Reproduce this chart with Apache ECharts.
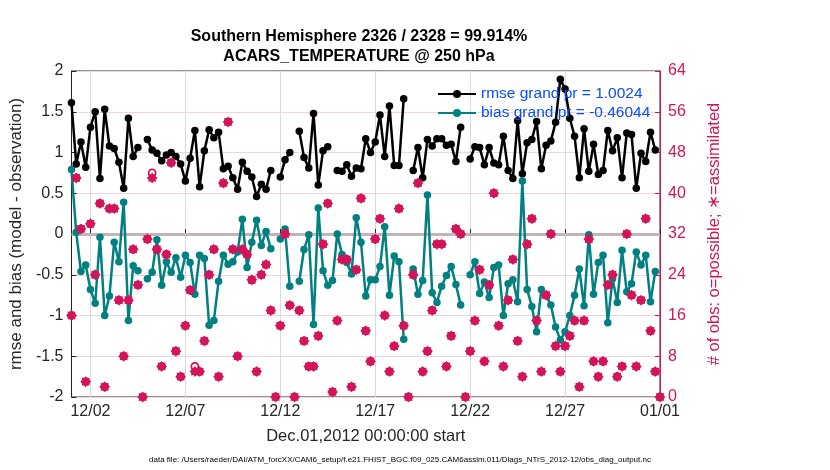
<!DOCTYPE html>
<html>
<head>
<meta charset="utf-8">
<script src="https://cdn.jsdelivr.net/npm/echarts@6/dist/echarts.min.js"></script>
<style>
html,body{margin:0;padding:0;background:#fff;}
#c{width:830px;height:470px;}
</style>
</head>
<body>
<div id="c"></div>
<script>
// ---- data (6-hourly, Dec 1 00:00 .. Jan 1 00:00) ----
const tickLabels = ['12/02','12/07','12/12','12/17','12/22','12/27','01/01'];
const titleLines = ['Southern Hemisphere 2326 / 2328 = 99.914%', 'ACARS_TEMPERATURE @ 250 hPa'];
const legendNames = ['rmse grand pr = 1.0024', 'bias grand pr = -0.46044'];

const rmse = [
1.61,0.86,1.13,0.82,1.31,1.50,0.68,1.53,1.08,1.05,
0.88,0.56,1.42,0.95,1.06,null,1.16,1.03,0.99,0.90,
0.97,1.00,0.95,0.86,0.65,0.93,1.27,0.58,1.02,1.28,
1.18,1.25,0.80,0.83,0.69,0.55,0.88,0.77,0.70,0.46,
0.61,0.55,0.78,null,0.70,0.91,1.00,null,1.26,0.94,
0.81,1.48,0.60,1.02,1.07,null,0.78,0.77,0.85,0.71,
0.81,0.80,1.17,1.00,1.13,1.46,0.95,1.57,0.84,0.84,
1.66,null,0.78,1.06,0.69,1.16,1.08,1.17,1.17,1.09,
1.10,0.89,1.31,null,0.92,1.07,1.06,0.85,1.06,0.87,
0.85,1.20,0.78,0.68,1.39,0.74,1.12,1.16,1.38,0.80,
1.09,1.14,1.37,1.90,1.78,1.42,1.20,0.69,1.29,0.77,
1.10,0.73,0.78,1.27,1.02,1.18,0.69,1.24,1.22,0.56,
0.99,0.89,1.25,1.03,null
];

const bias = [
0.79,0.02,-0.46,-0.38,-0.68,-0.85,-0.04,-1.00,-0.76,-0.10,
-0.34,0.39,-1.06,-0.39,-0.45,null,-0.55,-0.47,-0.07,-0.63,
-0.34,-0.47,-0.29,-0.53,-0.26,-0.35,-0.74,-0.26,-0.30,-1.12,
-1.06,-0.58,-0.26,-0.37,-0.34,-0.22,0.18,-0.41,-0.10,0.17,
-0.14,0.03,-0.18,null,-0.06,0.06,-0.64,null,-0.58,-0.19,
-0.01,-1.11,0.32,-0.45,-0.63,-0.57,0.00,-0.25,-0.35,-0.49,
0.20,-0.10,-0.76,-0.56,-0.56,-0.40,0.09,-0.75,-0.27,-0.34,
-1.29,null,-0.43,-0.74,-0.57,0.48,-0.72,-0.84,-0.64,-0.51,
-0.40,-0.62,-0.87,null,-0.50,-0.34,-0.73,-0.59,-0.78,-0.41,
-0.38,-1.00,-0.61,-0.56,-0.83,0.65,-0.68,-0.89,-1.20,-0.68,
-0.75,-0.87,-1.14,-1.30,-1.20,-1.00,-0.75,-0.43,-0.88,-0.01,
-0.74,-0.35,-0.26,-1.09,-0.55,-0.84,-0.20,-0.71,-0.61,-0.22,
-0.38,-0.26,-0.83,-0.46,null
];

const obsAssimilated = [
16,43,33,3,34,24,38,2,37,37,
19,8,19,29,22,0,31,43,29,6,
28,46,9,4,14,21,5,5,11,24,
29,4,42,54,29,8,29,28,23,5,
24,26,17,0,14,32,18,0,17,11,
6,6,12,30,38,1,15,27,27,2,
25,39,13,7,31,35,16,5,10,37,
14,0,24,42,5,9,17,30,30,6,
12,33,32,0,9,15,25,7,22,40,
14,6,19,27,11,4,30,35,15,5,
20,32,10,5,10,12,15,2,15,31,
7,4,7,22,24,4,6,32,20,6,
19,35,13,5,0
];

const obsPossible = [
16,43,33,3,34,24,38,2,37,37,
19,8,19,29,22,0,31,44,29,6,
28,46,9,4,14,21,6,5,11,24,
29,4,42,54,29,8,29,28,23,5,
24,26,17,0,14,32,18,0,17,11,
6,6,12,30,38,1,15,27,27,2,
25,39,13,7,31,35,16,5,10,37,
14,0,24,42,5,9,17,30,30,6,
12,33,32,0,9,15,25,7,22,40,
14,6,19,27,11,4,30,35,15,5,
20,32,10,5,10,12,15,2,15,31,
7,4,7,22,24,4,6,32,20,6,
19,35,13,5,0
];

// categories: 6-hourly time stamps
const times = [];
for (let i = 0; i < rmse.length; i++) {
  const d = 1 + Math.floor(i / 4);
  const h = (i % 4) * 6;
  const label = d <= 31 ? ('12/' + String(d).padStart(2, '0')) : '01/01';
  times.push(label + ' ' + String(h).padStart(2, '0'));
}
const isTick = (idx, val) => {
  const v = times[idx];
  return v.slice(6) === '00' && tickLabels.indexOf(v.slice(0, 5)) >= 0;
};

const FONT = '"Liberation Sans", Arial, Helvetica, sans-serif';
const INK = '#262626';
const MAG = '#d4145a';
const TEAL = '#008080';
const STAR = 'path://M20 10 L16.47 7.32 L17.07 2.93 L12.68 3.53 L10 0 L7.32 3.53 L2.93 2.93 L3.53 7.32 L0 10 L3.53 12.68 L2.93 17.07 L7.32 16.47 L10 20 L12.68 16.47 L17.07 17.07 L16.47 12.68 Z';

const chart = echarts.init(document.getElementById('c'), null, {renderer: 'canvas'});
chart.setOption({
  animation: false,
  backgroundColor: '#fff',
  textStyle: {fontFamily: FONT},
  grid: {left: 58, right: 170, top: 71, bottom: 73, show: true, borderColor: INK, borderWidth: 1, backgroundColor: 'transparent'},
  graphic: [
    {type: 'text', x: 359, y: 37, style: {text: titleLines[0], font: 'bold 16px ' + FONT, fill: '#000', textAlign: 'center', textVerticalAlign: 'middle', align: 'center', verticalAlign: 'middle'}},
    {type: 'text', x: 359, y: 57, style: {text: titleLines[1], font: 'bold 16px ' + FONT, fill: '#000', textAlign: 'center', textVerticalAlign: 'middle', align: 'center', verticalAlign: 'middle'}},
    {type: 'text', x: 400, y: 460, style: {text: 'data file: /Users/raeder/DAI/ATM_forcXX/CAM6_setup/f.e21.FHIST_BGC.f09_025.CAM6assim.011/Diags_NTrS_2012-12/obs_diag_output.nc', font: '8px ' + FONT, fill: '#000', textAlign: 'center', textVerticalAlign: 'middle', align: 'center', verticalAlign: 'middle'}}
  ],
  legend: {
    data: legendNames,
    orient: 'vertical',
    left: 432, top: 81,
    itemWidth: 38, itemHeight: 10, itemGap: 3,
    textStyle: {color: '#0a4dff', fontSize: 15.5, fontFamily: FONT},
    selectedMode: false
  },
  xAxis: {
    type: 'category',
    data: times,
    boundaryGap: false,
    axisLine: {lineStyle: {color: INK, width: 1}},
    axisTick: {show: true, inside: true, length: 5, interval: isTick, lineStyle: {color: INK}},
    axisLabel: {interval: isTick, formatter: v => v.slice(0, 5), color: INK, fontSize: 16, fontFamily: FONT, margin: 7},
    splitLine: {show: true, interval: isTick, lineStyle: {color: '#d9d9d9', width: 1}},
    name: 'Dec.01,2012 00:00:00 start',
    nameLocation: 'middle', nameGap: 31,
    nameTextStyle: {color: INK, fontSize: 16.5, fontFamily: FONT}
  },
  yAxis: [
    {
      type: 'value', min: -2, max: 2, interval: 0.5, position: 'left',
      axisLine: {show: true, lineStyle: {color: INK}},
      axisTick: {show: true, inside: true, length: 5, lineStyle: {color: INK}},
      axisLabel: {color: INK, fontSize: 16, fontFamily: FONT, margin: 8},
      splitLine: {show: false},
      name: 'rmse and bias (model - observation)',
      nameLocation: 'middle', nameGap: 32, nameRotate: 90,
      nameTextStyle: {color: INK, fontSize: 17, fontFamily: FONT}
    },
    {
      type: 'value', min: 0, max: 64, interval: 8, position: 'right',
      axisLine: {show: true, lineStyle: {color: MAG, width: 1}},
      axisTick: {show: true, inside: true, length: 5, lineStyle: {color: MAG}},
      axisLabel: {color: MAG, fontSize: 16, fontFamily: FONT, margin: 8},
      splitLine: {show: true, lineStyle: {color: '#f3d3de', width: 1}},
      name: '# of obs: o=possible; \u2217=assimilated',
      nameLocation: 'middle', nameGap: 46, nameRotate: 90,
      nameTextStyle: {color: MAG, fontSize: 16.5, fontFamily: FONT}
    }
  ],
  series: [
    {
      name: legendNames[1], type: 'line', yAxisIndex: 0, data: bias,
      symbol: 'circle', symbolSize: 7.5, showAllSymbol: true,
      lineStyle: {color: TEAL, width: 2.5}, itemStyle: {color: TEAL},
      z: 3,
      markLine: {silent: true, symbol: 'none', label: {show: false},
        lineStyle: {color: '#c2b5b9', width: 3, type: 'solid'},
        data: [{yAxis: 0}], z: 1}
    },
    {
      name: legendNames[0], type: 'line', yAxisIndex: 0, data: rmse,
      symbol: 'circle', symbolSize: 7.5, showAllSymbol: true,
      lineStyle: {color: '#000', width: 2.5}, itemStyle: {color: '#000'},
      z: 3
    },
    {
      name: 'possible', type: 'scatter', yAxisIndex: 1, data: obsPossible,
      symbol: 'circle', symbolSize: 7,
      itemStyle: {color: 'rgba(0,0,0,0)', borderColor: MAG, borderWidth: 1.8, opacity: 1},
      z: 4
    },
    {
      name: 'assimilated', type: 'scatter', yAxisIndex: 1, data: obsAssimilated,
      symbol: STAR, symbolSize: 11,
      itemStyle: {color: MAG, opacity: 1},
      z: 5
    }
  ]
});
</script>
</body>
</html>
